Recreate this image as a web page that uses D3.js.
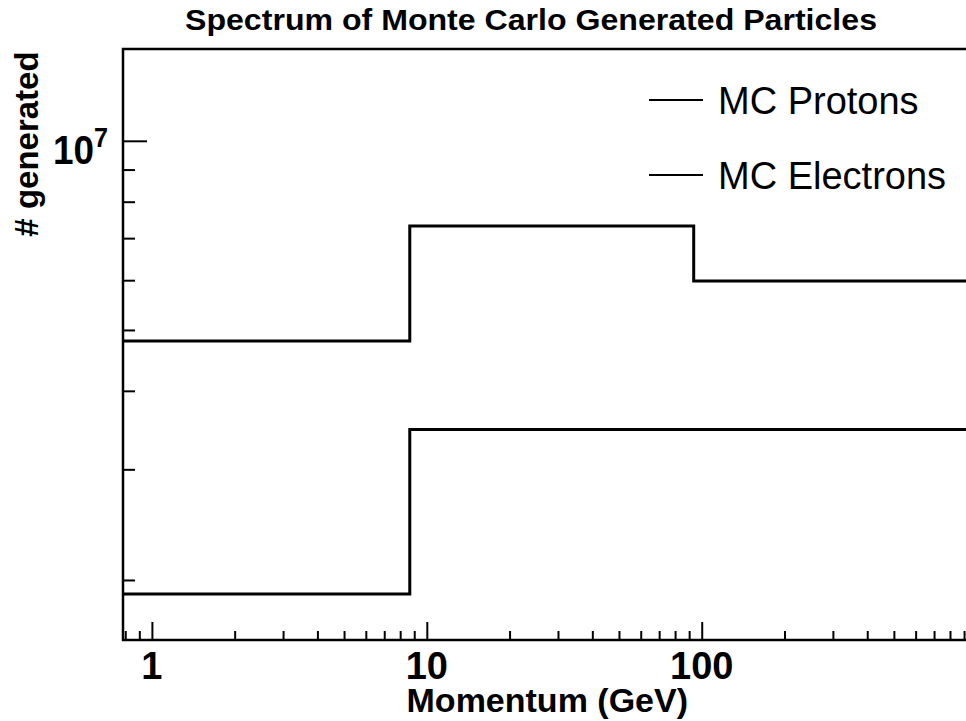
<!DOCTYPE html>
<html>
<head>
<meta charset="utf-8">
<script src="https://cdn.jsdelivr.net/npm/d3@7"></script>
<style>
  html, body { margin: 0; padding: 0; background: #fff; }
  svg { display: block; }
  text { font-family: 'Liberation Sans', Arial, Helvetica, sans-serif; fill: #000; }
</style>
</head>
<body>
<div id="container"></div>
<script>
'use strict';

//Data: bin edges in GeV and counts per bin
const binEdges = [0.785, 8.67, 93.5, 1020];
const protons = [4.80e6, 7.32e6, 5.98e6];
const electrons = [1.90e6, 3.47e6, 3.47e6];
const seriesNames = ['MC Protons', 'MC Electrons'];

//Ticks
const xMajorTicks = [1, 10, 100, 1000];
const xLabelTicks = [1, 10, 100];
const xMajorLabels = ['1', '10', '100'];
const yMajorTicks = [1e7];
const yMinorTicks = [2e6, 3e6, 4e6, 5e6, 6e6, 7e6, 8e6, 9e6];

//Sizing
const VIZ = {
    WIDTH: 966,
    HEIGHT: 721,
    MARGIN: { LEFT: 123, TOP: 49 },
    PLOT_W: 856,
    PLOT_H: 591,
};

const svg = d3.select('#container')
    .append('svg')
    .attr('width', VIZ.WIDTH)
    .attr('height', VIZ.HEIGHT)
    .attr('viewBox', `0 0 ${VIZ.WIDTH} ${VIZ.HEIGHT}`);

const plotLeft = VIZ.MARGIN.LEFT;
const plotTop = VIZ.MARGIN.TOP;
const plotBottom = plotTop + VIZ.PLOT_H;

//Scales
const x = d3.scaleLog()
    .domain([binEdges[0], binEdges[binEdges.length - 1]])
    .range([plotLeft, plotLeft + VIZ.PLOT_W]);
const y = d3.scaleLog()
    .domain([1.605e6, 1.40e7])
    .range([plotBottom, plotTop]);

//Axes (ticks pointing inward)
function drawAxis(axis, tx, ty) {
    const g = svg.append('g')
        .attr('transform', `translate(${tx},${ty})`)
        .call(axis);
    g.select('.domain').remove();
    g.selectAll('.tick line').attr('stroke', '#000').attr('stroke-width', 2);
    g.selectAll('.tick text').remove();
    return g;
}

const xMinor = x.ticks().filter(v => !xMajorTicks.includes(v));
drawAxis(d3.axisTop(x).tickValues(xMinor).tickSize(9), 0, plotBottom);
drawAxis(d3.axisTop(x).tickValues(xMajorTicks).tickSize(18), 0, plotBottom);
drawAxis(d3.axisRight(y).tickValues(yMinorTicks).tickSize(12), plotLeft, 0);
drawAxis(d3.axisRight(y).tickValues(yMajorTicks).tickSize(24), plotLeft, 0);

//X tick labels
svg.append('g')
    .selectAll('text')
    .data(xLabelTicks)
    .join('text')
    .attr('x', d => x(d))
    .attr('y', 679)
    .attr('text-anchor', 'middle')
    .style('font-size', '38px')
    .style('font-weight', 'bold')
    .text((d, i) => xMajorLabels[i]);

//Y tick label 10^7
const yLab = svg.append('text')
    .attr('transform', `translate(108,${y(1e7) + 23}) scale(0.9,1)`)
    .attr('text-anchor', 'end')
    .style('font-weight', 'bold');
yLab.append('tspan').style('font-size', '41px').text('10');
yLab.append('tspan').style('font-size', '28px').attr('dy', -17).text('7');

//Histograms
const stepLine = d3.line()
    .x(d => x(d[0]))
    .y(d => y(d[1]))
    .curve(d3.curveStepAfter);

function histPoints(values) {
    const pts = values.map((v, i) => [binEdges[i], v]);
    pts.push([binEdges[binEdges.length - 1], values[values.length - 1]]);
    return pts;
}

[protons, electrons].forEach(series => {
    svg.append('path')
        .attr('d', stepLine(histPoints(series)))
        .attr('fill', 'none')
        .attr('stroke', '#000')
        .attr('stroke-width', 3);
});

//Frame
svg.append('rect')
    .attr('x', plotLeft)
    .attr('y', plotTop)
    .attr('width', VIZ.PLOT_W)
    .attr('height', VIZ.PLOT_H)
    .attr('fill', 'none')
    .attr('stroke', '#000')
    .attr('stroke-width', 2.5);

//Title and axis titles
svg.append('text')
    .attr('x', 185)
    .attr('y', 30)
    .attr('textLength', 692)
    .attr('lengthAdjust', 'spacingAndGlyphs')
    .style('font-size', '29px')
    .style('font-weight', 'bold')
    .text('Spectrum of Monte Carlo Generated Particles');

svg.append('text')
    .attr('x', 688)
    .attr('y', 712)
    .attr('text-anchor', 'end')
    .style('font-size', '34px')
    .style('font-weight', 'bold')
    .text('Momentum (GeV)');

svg.append('text')
    .attr('transform', 'translate(38,144) rotate(-90)')
    .attr('text-anchor', 'middle')
    .style('font-size', '33px')
    .style('font-weight', 'bold')
    .text('# generated');

//Legend
const legend = svg.append('g');
seriesNames.forEach((name, i) => {
    const ly = 100 + i * 75;
    legend.append('line')
        .attr('x1', 649).attr('x2', 703)
        .attr('y1', ly).attr('y2', ly)
        .attr('stroke', '#000')
        .attr('stroke-width', 2);
    legend.append('text')
        .attr('x', 718)
        .attr('y', ly + 14)
        .style('font-size', '38px')
        .text(name);
});
</script>
</body>
</html>
